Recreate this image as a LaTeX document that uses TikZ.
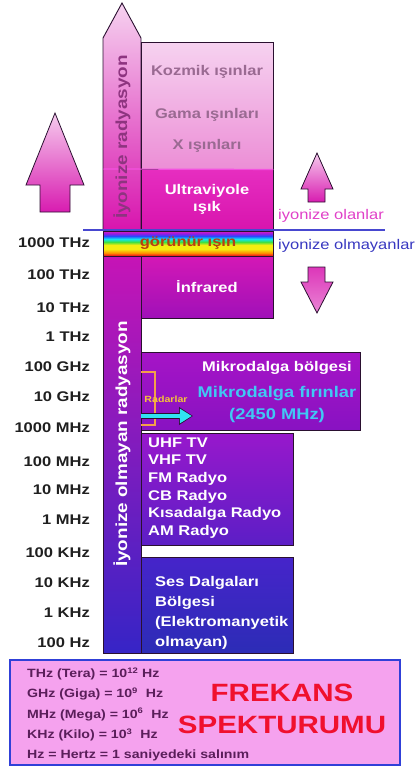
\documentclass[tikz,border=0pt]{standalone}
\usepackage{fontspec}
\setmainfont{Liberation Sans}[FakeStretch=1.18]
\usetikzlibrary{arrows.meta}
\definecolor{ionlight}{HTML}{F6D2F0}
\definecolor{ionmid}{HTML}{EC8ED6}
\definecolor{uvtop}{HTML}{E62EC0}
\definecolor{uvbot}{HTML}{D814AE}
\definecolor{irtop}{HTML}{D418B6}
\definecolor{irbot}{HTML}{A010B8}
\definecolor{mwtop}{HTML}{A614C6}
\definecolor{mwbot}{HTML}{8812C2}
\definecolor{rftop}{HTML}{9818CC}
\definecolor{rfbot}{HTML}{5C1EC6}
\definecolor{sestop}{HTML}{4624CA}
\definecolor{sesbot}{HTML}{2C2CB6}
\definecolor{coltop}{HTML}{C614B6}
\definecolor{colbot}{HTML}{3624C6}
\definecolor{greytext}{HTML}{9A6A92}
\definecolor{iontext}{HTML}{8E3480}
\definecolor{olanpink}{HTML}{E040C8}
\definecolor{olmayanblue}{HTML}{3838C0}
\definecolor{ovencyan}{HTML}{40C8F4}
\definecolor{arrowcyan}{HTML}{30E4F2}
\definecolor{radarline}{HTML}{F4A048}
\definecolor{radartext}{HTML}{F4C438}
\definecolor{legendfill}{HTML}{F5A2EE}
\definecolor{legendline}{HTML}{3040D8}
\definecolor{legendtext}{HTML}{5A1E5A}
\definecolor{titlered}{HTML}{F0102E}
\definecolor{seam}{HTML}{F450E0}
\definecolor{ionline}{HTML}{4848D0}
\definecolor{outline}{HTML}{2A1030}
\definecolor{arrowpale}{HTML}{F6CCEE}
\definecolor{arrowdeep}{HTML}{D81CB0}
\definecolor{visibletext}{HTML}{B84010}
\definecolor{rbred}{HTML}{F01818}
\definecolor{rborange}{HTML}{FF8C00}
\definecolor{rbyellow}{HTML}{F4EE10}
\definecolor{rbgreen}{HTML}{40E040}
\definecolor{rbcyan}{HTML}{10E4F4}
\definecolor{rbblue}{HTML}{2848FF}
\definecolor{rbviolet}{HTML}{9818E0}
\definecolor{rbmagenta}{HTML}{E020C0}
\pgfdeclareverticalshading{rainbow}{100bp}{color(0bp)=(rbred); color(26bp)=(rbred);
 color(31bp)=(rborange); color(39bp)=(rbyellow); color(47bp)=(rbyellow); color(53bp)=(rbgreen);
 color(59bp)=(rbcyan); color(65bp)=(rbblue); color(70bp)=(rbviolet); color(75bp)=(rbmagenta);
 color(100bp)=(rbmagenta)}

\begin{document}
\begin{tikzpicture}[x=1pt,y=-1pt,
 every node/.style={font=\bfseries\fontsize{14}{17}\selectfont,inner sep=0pt},
 box/.style={draw=outline,line width=.9pt},
 freq/.style={anchor=east,text=black!88},
 colname/.style={rotate=90,font=\bfseries\fontsize{16}{19}\selectfont},
 side/.style={anchor=west,font=\fontsize{14}{17}\selectfont},
 bigarrow/.style={draw=outline,line width=.8pt,top color=arrowpale,bottom color=arrowdeep},
 ovenback/.style={line width=6.6pt,draw=outline,-{Triangle[length=14pt,width=17pt]}},
 ovenfront/.style={line width=4.4pt,draw=arrowcyan,-{Triangle[length=12pt,width=14pt]}}]
\useasboundingbox (0,0) rectangle (417,769);
\draw[bigarrow] (40,212) -- (40,185) -- (26,185) -- (55,113) -- (84,185) -- (70,185) -- (70,212) -- cycle;
\draw[bigarrow] (308,202) -- (308,189) -- (301,189) -- (317,153) -- (333,189) -- (325,189) -- (325,202) -- cycle;
\draw[bigarrow,top color=arrowdeep!85!arrowpale,bottom color=arrowpale!60!arrowdeep]
 (308,267) -- (308,282) -- (301,282) -- (317,313) -- (333,282) -- (325,282) -- (325,267) -- cycle;
\draw[box,top color=ionlight,middle color=ionmid!55!ionlight,bottom color=uvbot]
 (103,230) -- (103,38) -- (122,3) -- (141,38) -- (141,230) -- cycle;
\node[box,top color=ionlight,bottom color=ionmid,minimum width=132pt,minimum height=127pt] (ionbox) at (207,105.5) {};
\node[text=greytext] (kozmik) at (207,72) {Kozmik ışınlar};
\node[text=greytext] (gama) at (207,115) {Gama ışınları};
\node[text=greytext] (xray) at (207,146) {X ışınları};
\node[box,top color=uvtop,bottom color=uvbot,minimum width=132pt,minimum height=61pt,
 text=white,align=center] (uv) at (207,199.5) {Ultraviyole\\ışık};
\draw[seam,line width=1.2pt] (103.5,169) -- (ionbox.south east);
\node[colname,text=iontext] (iontitle) at (122,137) {İyonize radyasyon};
\node[box,top color=coltop,bottom color=colbot,minimum width=38pt,minimum height=397pt] (lowcol) at (122,454.5) {};
\node[colname,text=white] (lowtitle) at (122,444) {İyonize olmayan radyasyon};
\node[box,shading=rainbow,minimum width=170pt,minimum height=25pt,text=visibletext] (visible) at (188,243.5) {görünür ışın};
\node[box,top color=irtop,bottom color=irbot,minimum width=132pt,minimum height=62pt,text=white] (ir) at (207,287) {İnfrared};
\node[box,top color=mwtop,bottom color=mwbot,minimum width=219pt,minimum height=78pt] (mw) at (250.5,391) {};
\node[text=white] (mwtitle) at (277,368) {Mikrodalga bölgesi};
\node[text=ovencyan,align=center,font=\bfseries\fontsize{15.5}{22}\selectfont] (oven) at (277,404) {Mikrodalga fırınlar\\(2450 MHz)};
\draw[radarline,line width=1.6pt] (141,372) -- (155,372) -- (155,425) -- (141,425);
\node[text=radartext,font=\bfseries\fontsize{9}{10}\selectfont] (radar) at (166,399) {Radarlar};
\coordinate (ovenfrom) at (141,416);
\coordinate (ovento) at (193,416);
\draw[ovenback] (ovenfrom) -- (ovento);
\draw[ovenfront] (ovenfrom) -- ([xshift=-1.2pt]ovento);
\node[box,top color=rftop,bottom color=rfbot,minimum width=152pt,minimum height=112pt] (rf) at (217,489) {};
\node[anchor=west,align=left,text=white,font=\bfseries\fontsize{14}{17.6}\selectfont] (rflist) at (148,488)
 {UHF TV\\VHF TV\\FM Radyo\\CB Radyo\\Kısadalga Radyo\\AM Radyo};
\node[box,top color=sestop,bottom color=sesbot,minimum width=152pt,minimum height=96pt] (ses) at (217,605) {};
\node[anchor=west,align=left,text=white,font=\bfseries\fontsize{14}{19.8}\selectfont] (seslist) at (155,613)
 {Ses Dalgaları\\Bölgesi\\(Elektromanyetik\\olmayan)};
\draw[ionline,line width=1.5pt] (83,230) -- (385,230);
\node[side,text=olanpink] (olan) at (278,216) {iyonize olanlar};
\node[side,text=olmayanblue] (olmayan) at (278,246) {iyonize olmayanlar};
\foreach \y/\f in {243/1000 THz,275/100 THz,308/10 THz,337/1 THz,367/100 GHz,397/10 GHz,428/1000 MHz,
 462/100 MHz,490/10 MHz,520/1 MHz,553/100 KHz,583/10 KHz,613/1 KHz,643/100 Hz}
 \node[freq] (f\y) at (90,\y) {\f};
\node[draw=legendline,line width=2pt,fill=legendfill,minimum width=390pt,minimum height=105pt] (legend) at (205,712.5) {};
\node[anchor=west,align=left,text=legendtext,font=\bfseries\fontsize{12}{20.25}\selectfont] (units) at (27,714.5)
 {THz (Tera) = 10\textsuperscript{12} Hz\\GHz (Giga) = 10\textsuperscript{9}\ \ Hz\\
 MHz (Mega) = 10\textsuperscript{6}\ \ Hz\\KHz (Kilo) = 10\textsuperscript{3}\ \ Hz\\Hz = Hertz = 1 saniyedeki salınım};
\node[text=titlered,align=center,font=\bfseries\fontsize{25}{32}\selectfont] (title) at (282,709) {FREKANS\\SPEKTURUMU};
\end{tikzpicture}
\end{document}
